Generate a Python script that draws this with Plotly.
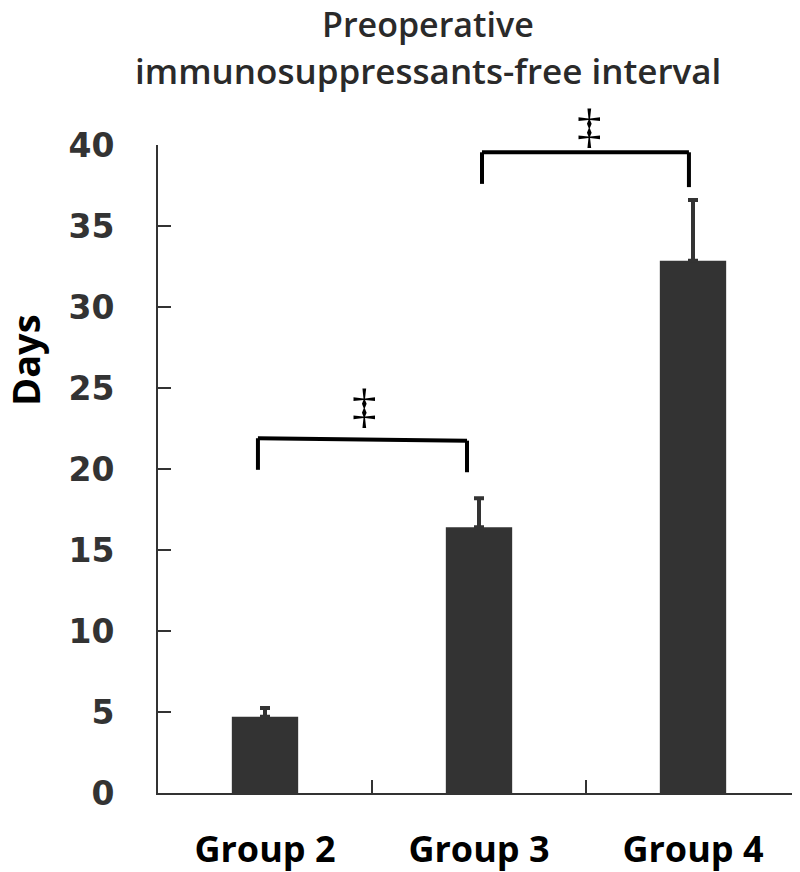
import plotly.graph_objects as go

groups = ["Group 2", "Group 3", "Group 4"]
means = [4.7, 16.4, 32.85]
err_up = [0.55, 1.8, 3.75]
y_ticks = [0, 5, 10, 15, 20, 25, 30, 35, 40]

# significance brackets: (x_left, x_right, y_left_bottom, y_left_top, y_right_top, y_right_bottom)
brackets = [
    (-0.033, 0.944, 19.95, 21.9, 21.75, 19.8),
    (1.014, 1.981, 37.6, 39.55, 39.55, 37.4),
]
# significance marks: (x in category units, y in data units)
sig_marks = [(0.467, 23.9), (1.514, 41.2)]

DARK = "#333333"
Y_MAX = 40.0

fig = go.Figure()
fig.add_trace(go.Bar(
    x=groups, y=means, width=0.31,
    marker=dict(color=DARK, line=dict(width=0)),
    error_y=dict(type="data", array=err_up, arrayminus=[0]*len(err_up), symmetric=False,
                 color=DARK, thickness=4, width=5),
))

for (x0, x1, yb0, yt0, yt1, yb1) in brackets:
    for (xa, ya, xb, yb) in [(x0, yb0, x0, yt0), (x0, yt0, x1, yt1), (x1, yt1, x1, yb1)]:
        fig.add_shape(type="line", xref="x", yref="y", x0=xa, y0=ya, x1=xb, y1=yb,
                      line=dict(color="black", width=4))

for (xs, ys) in sig_marks:
    fig.add_annotation(x=xs, y=ys / Y_MAX, xref="x", yref="paper", text="‡", showarrow=False,
                       xanchor="center", yanchor="middle",
                       font=dict(family="Liberation Serif", size=49, color="black"))

TX = (428 - 158) / 642
fig.add_annotation(xref="paper", x=TX, y=(793 - 24) / 648, yref="paper", text="Preoperative",
                   showarrow=False, xanchor="center", yanchor="middle", borderpad=0,
                   font=dict(family="Open Sans", size=34, color="#2a2a2a", weight=600))
fig.add_annotation(xref="paper", x=TX, y=(793 - 71) / 648, yref="paper",
                   text="immunosuppressants-free interval",
                   showarrow=False, xanchor="center", yanchor="middle", borderpad=0,
                   font=dict(family="Open Sans", size=35, color="#2a2a2a", weight=600))
fig.add_annotation(xref="paper", x=(25 - 158) / 642, y=(793 - 360) / 648, yref="paper",
                   text="<b>Days</b>", textangle=-90, showarrow=False,
                   xanchor="center", yanchor="middle", borderpad=0,
                   font=dict(family="Open Sans", size=38, color="black"))

fig.update_layout(
    width=792, height=864,
    margin=dict(l=150, r=0, t=137, b=79),
    paper_bgcolor="white", plot_bgcolor="white",
    showlegend=False, bargap=0.69,
)
fig.update_xaxes(
    type="category", range=[-0.5, 2.5], tickson="boundaries",
    ticks="inside", ticklen=13, tickwidth=2, tickcolor=DARK,
    showline=True, linecolor=DARK, linewidth=2, showgrid=False, zeroline=False,
    tickfont=dict(family="Open Sans", size=36, color="black", weight="bold"),
    ticklabelstandoff=24, automargin=False,
)
fig.update_yaxes(
    range=[0, Y_MAX], tickvals=y_ticks, ticktext=[str(v) for v in y_ticks],
    ticks="inside", ticklen=13, tickwidth=2, tickcolor=DARK,
    showline=True, linecolor=DARK, linewidth=2, showgrid=False, zeroline=False,
    tickfont=dict(family="DejaVu Sans", size=33, color=DARK, weight="bold"),
    ticklabelstandoff=35, automargin=False,
)

fig.write_html("out.html")
